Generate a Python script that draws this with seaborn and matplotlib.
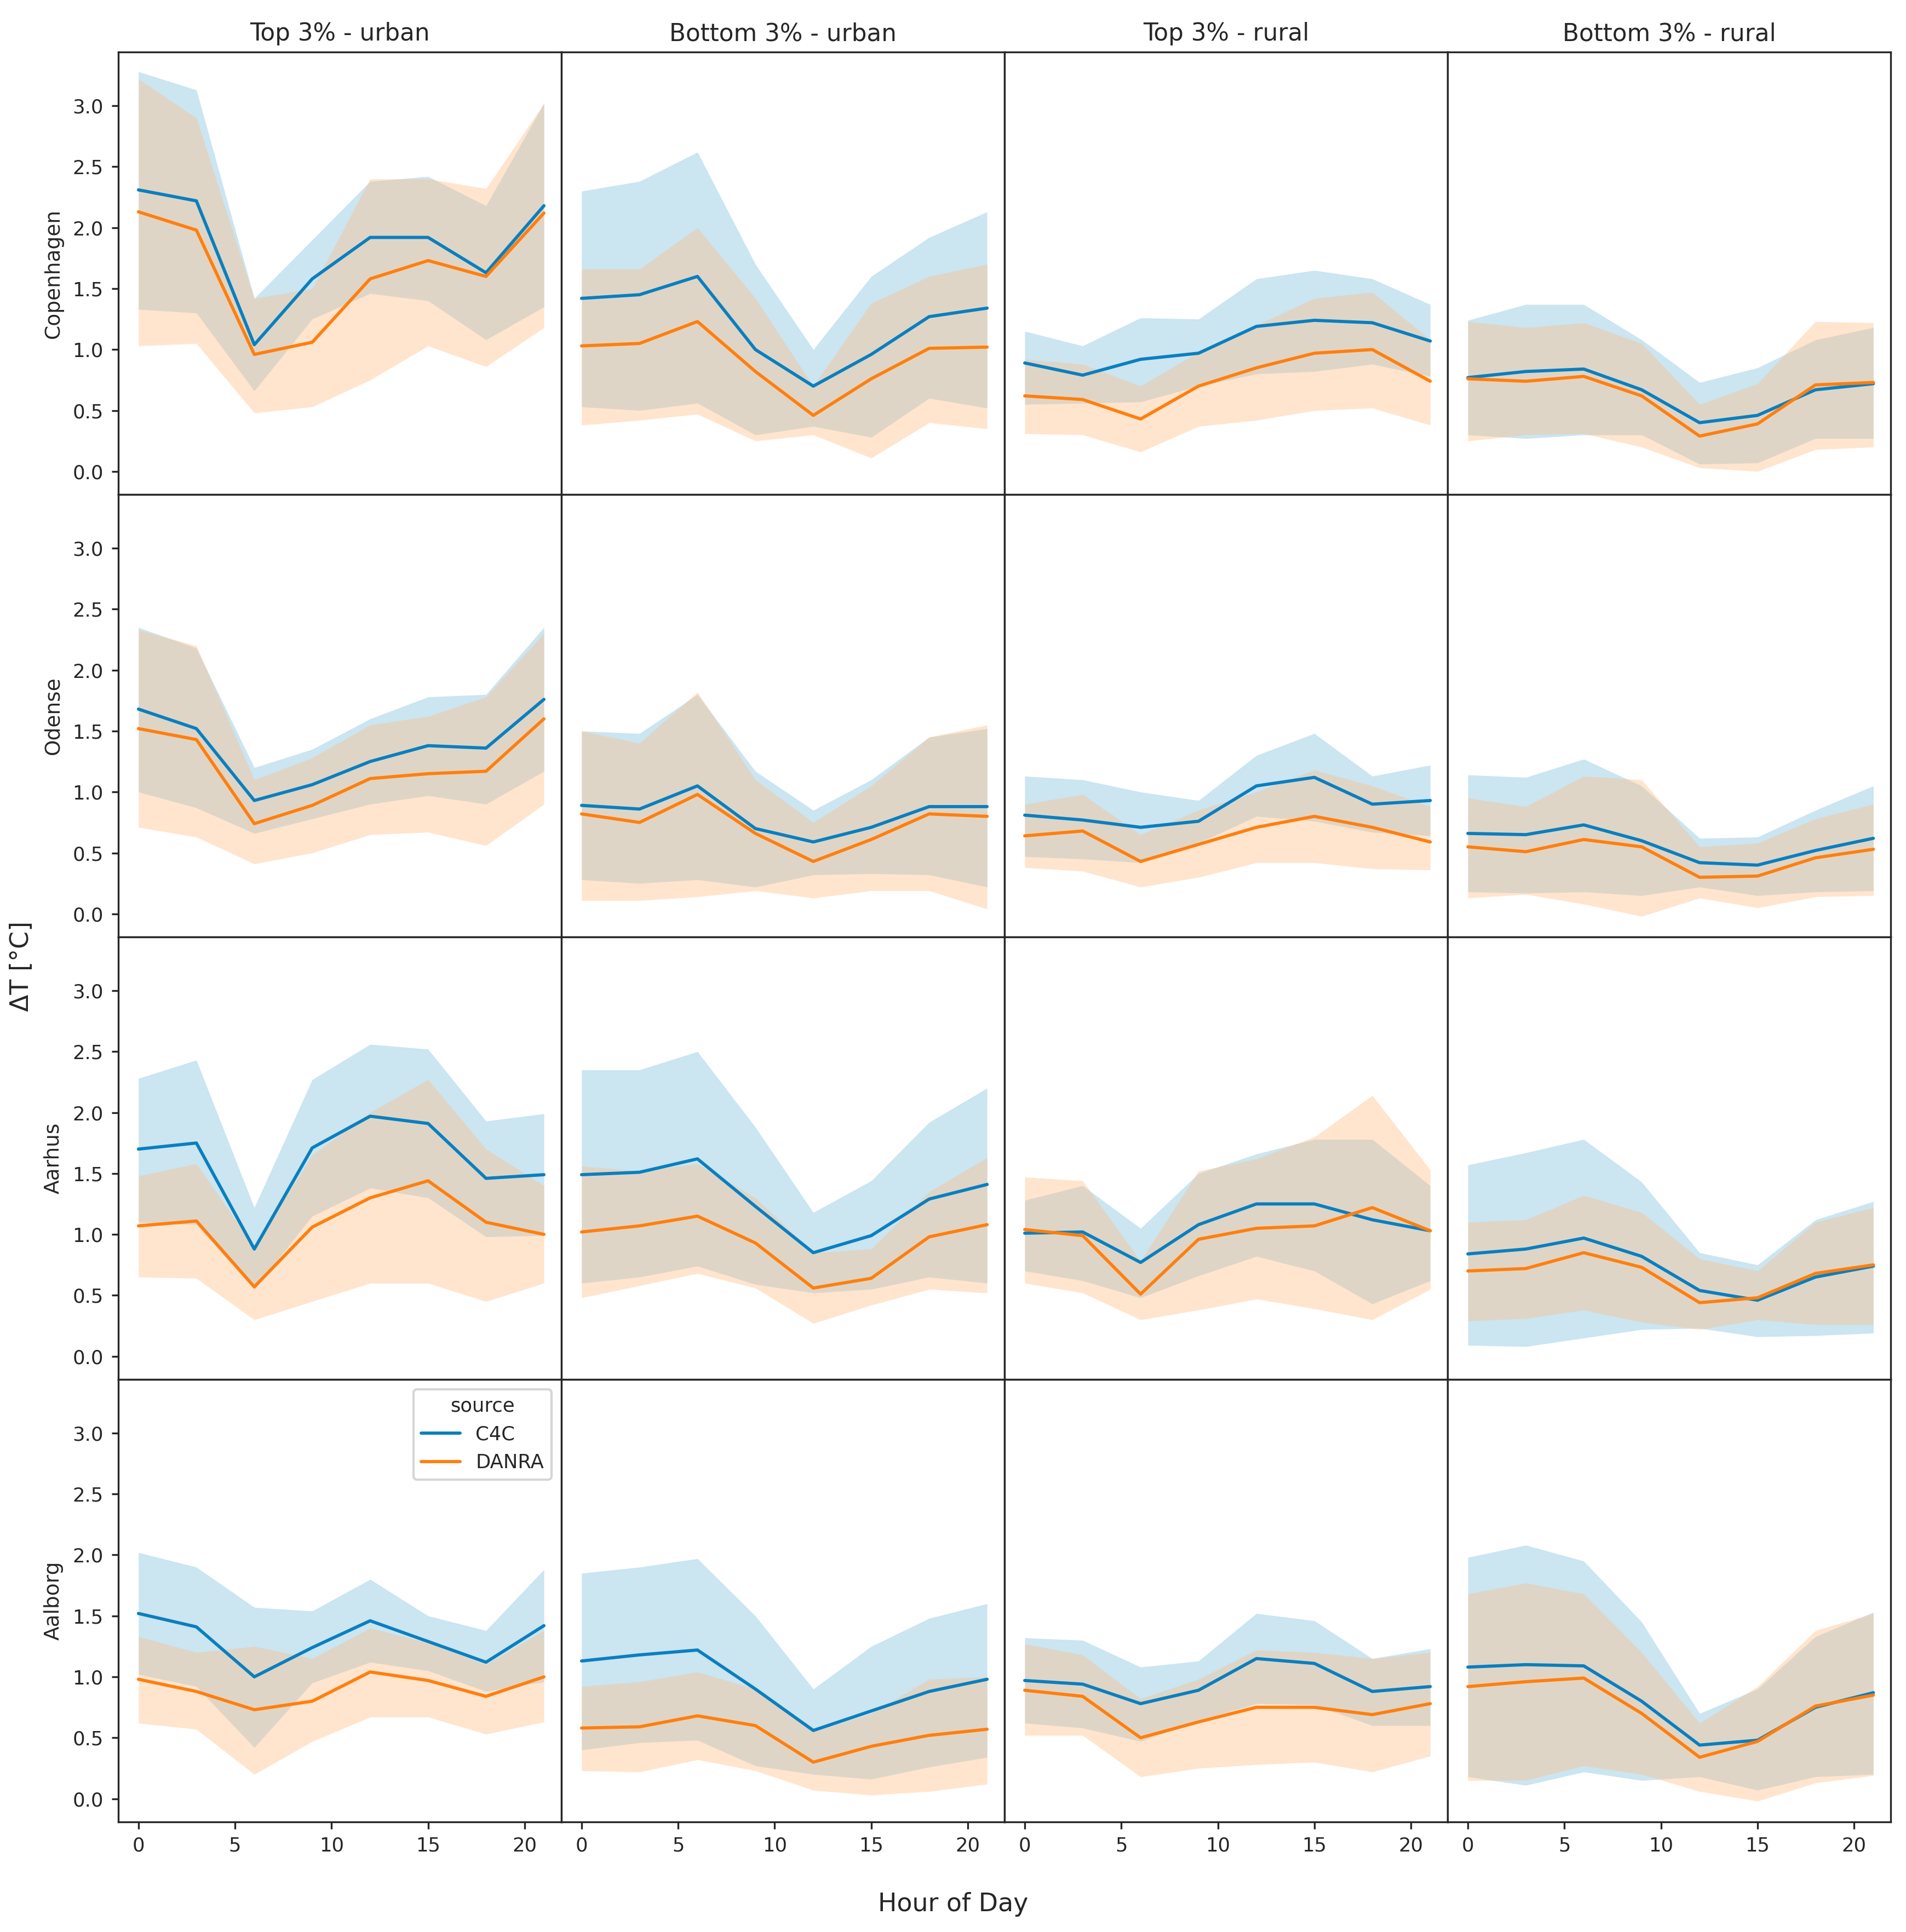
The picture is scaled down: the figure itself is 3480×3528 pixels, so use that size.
import matplotlib
matplotlib.use("Agg")
import matplotlib.pyplot as plt
import numpy as np
import pandas as pd
import seaborn as sns

hours = [0, 3, 6, 9, 12, 15, 18, 21]
cities = ["Copenhagen", "Odense", "Aarhus", "Aalborg"]
groups = ["Top 3% - urban", "Bottom 3% - urban", "Top 3% - rural", "Bottom 3% - rural"]

# (city, group index) -> (mean, lower, upper)
c4c = {
    ("Copenhagen", 0): ([2.31, 2.22, 1.04, 1.58, 1.92, 1.92, 1.63, 2.18], [1.33, 1.30, 0.66, 1.25, 1.46, 1.40, 1.08, 1.35], [3.28, 3.13, 1.42, 1.90, 2.38, 2.42, 2.18, 3.02]),
    ("Copenhagen", 1): ([1.42, 1.45, 1.60, 1.00, 0.70, 0.96, 1.27, 1.34], [0.53, 0.50, 0.56, 0.30, 0.37, 0.28, 0.60, 0.52], [2.30, 2.38, 2.62, 1.70, 1.00, 1.60, 1.92, 2.13]),
    ("Copenhagen", 2): ([0.89, 0.79, 0.92, 0.97, 1.19, 1.24, 1.22, 1.07], [0.55, 0.56, 0.57, 0.70, 0.80, 0.82, 0.88, 0.78], [1.15, 1.03, 1.26, 1.25, 1.58, 1.65, 1.58, 1.37]),
    ("Copenhagen", 3): ([0.77, 0.82, 0.84, 0.67, 0.40, 0.46, 0.67, 0.72], [0.30, 0.27, 0.30, 0.30, 0.06, 0.07, 0.27, 0.27], [1.24, 1.37, 1.37, 1.08, 0.73, 0.85, 1.08, 1.18]),
    ("Odense", 0): ([1.68, 1.52, 0.93, 1.06, 1.25, 1.38, 1.36, 1.76], [1.00, 0.87, 0.66, 0.78, 0.90, 0.97, 0.90, 1.17], [2.35, 2.18, 1.20, 1.35, 1.60, 1.78, 1.80, 2.35]),
    ("Odense", 1): ([0.89, 0.86, 1.05, 0.70, 0.59, 0.71, 0.88, 0.88], [0.28, 0.25, 0.28, 0.22, 0.32, 0.33, 0.32, 0.22], [1.50, 1.48, 1.80, 1.17, 0.85, 1.10, 1.45, 1.52]),
    ("Odense", 2): ([0.81, 0.77, 0.71, 0.76, 1.05, 1.12, 0.90, 0.93], [0.47, 0.45, 0.42, 0.58, 0.80, 0.76, 0.67, 0.64], [1.13, 1.10, 1.00, 0.93, 1.30, 1.48, 1.13, 1.22]),
    ("Odense", 3): ([0.66, 0.65, 0.73, 0.60, 0.42, 0.40, 0.52, 0.62], [0.18, 0.17, 0.18, 0.15, 0.22, 0.15, 0.18, 0.19], [1.14, 1.12, 1.27, 1.05, 0.62, 0.63, 0.85, 1.05]),
    ("Aarhus", 0): ([1.70, 1.75, 0.88, 1.71, 1.97, 1.91, 1.46, 1.49], [1.10, 1.08, 0.55, 1.15, 1.38, 1.30, 0.98, 0.99], [2.28, 2.43, 1.22, 2.27, 2.56, 2.52, 1.93, 1.99]),
    ("Aarhus", 1): ([1.49, 1.51, 1.62, 1.23, 0.85, 0.99, 1.29, 1.41], [0.60, 0.65, 0.74, 0.59, 0.52, 0.55, 0.65, 0.60], [2.35, 2.35, 2.50, 1.88, 1.18, 1.44, 1.92, 2.20]),
    ("Aarhus", 2): ([1.01, 1.02, 0.77, 1.08, 1.25, 1.25, 1.12, 1.03], [0.70, 0.62, 0.48, 0.66, 0.82, 0.70, 0.43, 0.62], [1.28, 1.40, 1.05, 1.50, 1.66, 1.78, 1.78, 1.40]),
    ("Aarhus", 3): ([0.84, 0.88, 0.97, 0.82, 0.54, 0.46, 0.65, 0.74], [0.09, 0.08, 0.15, 0.22, 0.23, 0.16, 0.17, 0.19], [1.57, 1.67, 1.78, 1.43, 0.85, 0.75, 1.12, 1.27]),
    ("Aalborg", 0): ([1.52, 1.41, 1.00, 1.24, 1.46, 1.29, 1.12, 1.42], [1.02, 0.92, 0.42, 0.95, 1.12, 1.05, 0.88, 0.96], [2.02, 1.90, 1.57, 1.54, 1.80, 1.50, 1.38, 1.88]),
    ("Aalborg", 1): ([1.13, 1.18, 1.22, 0.90, 0.56, 0.72, 0.88, 0.98], [0.40, 0.46, 0.48, 0.27, 0.20, 0.16, 0.26, 0.34], [1.85, 1.90, 1.97, 1.50, 0.90, 1.25, 1.48, 1.60]),
    ("Aalborg", 2): ([0.97, 0.94, 0.78, 0.89, 1.15, 1.11, 0.88, 0.92], [0.62, 0.58, 0.47, 0.64, 0.78, 0.77, 0.60, 0.60], [1.32, 1.30, 1.08, 1.13, 1.52, 1.46, 1.15, 1.23]),
    ("Aalborg", 3): ([1.08, 1.10, 1.09, 0.80, 0.44, 0.48, 0.75, 0.87], [0.18, 0.11, 0.22, 0.15, 0.18, 0.07, 0.18, 0.20], [1.98, 2.08, 1.95, 1.45, 0.70, 0.90, 1.33, 1.53]),
}
danra = {
    ("Copenhagen", 0): ([2.13, 1.98, 0.96, 1.06, 1.58, 1.73, 1.60, 2.12], [1.03, 1.05, 0.48, 0.53, 0.75, 1.03, 0.86, 1.18], [3.22, 2.90, 1.42, 1.50, 2.40, 2.40, 2.32, 3.02]),
    ("Copenhagen", 1): ([1.03, 1.05, 1.23, 0.82, 0.46, 0.76, 1.01, 1.02], [0.38, 0.42, 0.47, 0.25, 0.30, 0.11, 0.40, 0.35], [1.66, 1.66, 2.00, 1.42, 0.70, 1.38, 1.60, 1.70]),
    ("Copenhagen", 2): ([0.62, 0.59, 0.43, 0.70, 0.85, 0.97, 1.00, 0.74], [0.31, 0.30, 0.16, 0.37, 0.42, 0.50, 0.52, 0.38], [0.92, 0.88, 0.70, 0.98, 1.20, 1.42, 1.47, 1.08]),
    ("Copenhagen", 3): ([0.76, 0.74, 0.78, 0.62, 0.29, 0.39, 0.71, 0.73], [0.25, 0.30, 0.31, 0.20, 0.03, 0.00, 0.18, 0.20], [1.23, 1.18, 1.22, 1.05, 0.55, 0.72, 1.23, 1.22]),
    ("Odense", 0): ([1.52, 1.43, 0.74, 0.89, 1.11, 1.15, 1.17, 1.60], [0.71, 0.63, 0.41, 0.50, 0.65, 0.67, 0.56, 0.90], [2.33, 2.20, 1.10, 1.28, 1.55, 1.62, 1.78, 2.30]),
    ("Odense", 1): ([0.82, 0.75, 0.98, 0.66, 0.43, 0.61, 0.82, 0.80], [0.11, 0.11, 0.14, 0.19, 0.13, 0.19, 0.19, 0.04], [1.50, 1.40, 1.82, 1.10, 0.75, 1.05, 1.45, 1.55]),
    ("Odense", 2): ([0.64, 0.68, 0.43, 0.57, 0.71, 0.80, 0.71, 0.59], [0.38, 0.35, 0.22, 0.30, 0.42, 0.42, 0.37, 0.36], [0.90, 0.98, 0.65, 0.85, 1.00, 1.18, 1.05, 0.88]),
    ("Odense", 3): ([0.55, 0.51, 0.61, 0.55, 0.30, 0.31, 0.46, 0.53], [0.13, 0.16, 0.08, -0.02, 0.13, 0.05, 0.14, 0.15], [0.95, 0.88, 1.13, 1.10, 0.55, 0.58, 0.78, 0.90]),
    ("Aarhus", 0): ([1.07, 1.11, 0.57, 1.06, 1.30, 1.44, 1.10, 1.00], [0.65, 0.64, 0.30, 0.45, 0.60, 0.60, 0.45, 0.60], [1.48, 1.58, 0.90, 1.65, 2.00, 2.27, 1.70, 1.40]),
    ("Aarhus", 1): ([1.02, 1.07, 1.15, 0.93, 0.56, 0.64, 0.98, 1.08], [0.48, 0.58, 0.68, 0.56, 0.27, 0.42, 0.55, 0.52], [1.56, 1.52, 1.58, 1.30, 0.85, 0.88, 1.35, 1.63]),
    ("Aarhus", 2): ([1.04, 0.99, 0.51, 0.96, 1.05, 1.07, 1.22, 1.03], [0.60, 0.52, 0.30, 0.38, 0.47, 0.39, 0.30, 0.55], [1.47, 1.44, 0.78, 1.52, 1.62, 1.80, 2.14, 1.53]),
    ("Aarhus", 3): ([0.70, 0.72, 0.85, 0.73, 0.44, 0.48, 0.68, 0.75], [0.29, 0.31, 0.38, 0.28, 0.22, 0.30, 0.26, 0.26], [1.10, 1.12, 1.32, 1.18, 0.80, 0.70, 1.10, 1.22]),
    ("Aalborg", 0): ([0.98, 0.88, 0.73, 0.80, 1.04, 0.97, 0.84, 1.00], [0.62, 0.57, 0.20, 0.47, 0.67, 0.67, 0.53, 0.63], [1.33, 1.20, 1.25, 1.15, 1.40, 1.28, 1.10, 1.38]),
    ("Aalborg", 1): ([0.58, 0.59, 0.68, 0.60, 0.30, 0.43, 0.52, 0.57], [0.23, 0.22, 0.32, 0.23, 0.07, 0.03, 0.06, 0.12], [0.92, 0.96, 1.04, 0.90, 0.55, 0.70, 0.98, 1.00]),
    ("Aalborg", 2): ([0.89, 0.84, 0.50, 0.63, 0.75, 0.75, 0.69, 0.78], [0.52, 0.52, 0.18, 0.25, 0.28, 0.30, 0.22, 0.35], [1.27, 1.18, 0.82, 0.98, 1.22, 1.20, 1.15, 1.20]),
    ("Aalborg", 3): ([0.92, 0.96, 0.99, 0.70, 0.34, 0.47, 0.76, 0.85], [0.15, 0.15, 0.27, 0.20, 0.06, -0.02, 0.13, 0.19], [1.68, 1.77, 1.68, 1.20, 0.62, 0.92, 1.38, 1.52]),
}

rows = []
for src, table in [("C4C", c4c), ("DANRA", danra)]:
    for (city, g), (mean, lo, hi) in table.items():
        for h, m, l, u in zip(hours, mean, lo, hi):
            rows.append(dict(source=src, city=city, group=groups[g], hour=h, mean=m, lo=l, hi=u))
df = pd.DataFrame(rows)

palette = {"C4C": "#0a7fbf", "DANRA": "#ff7f0e"}
band = {"C4C": "#7fbfdd", "DANRA": "#ffbe86"}

sns.set_style("ticks")
plt.rcParams["font.family"] = ["DejaVu Sans"]
fig, axes = plt.subplots(4, 4, figsize=(11.6, 11.76), sharex=True, sharey=True)
fig.subplots_adjust(left=0.062, right=0.992, top=0.973, bottom=0.057, wspace=0, hspace=0)

for i, city in enumerate(cities):
    for j, grp in enumerate(groups):
        ax = axes[i, j]
        sub = df[(df.city == city) & (df.group == grp)]
        for src in ["C4C", "DANRA"]:
            s = sub[sub.source == src]
            ax.fill_between(s["hour"], s["lo"], s["hi"], color=band[src], alpha=0.4, lw=0)
        sns.lineplot(data=sub, x="hour", y="mean", hue="source", palette=palette,
                     ax=ax, lw=1.4, legend=(i == 3 and j == 0))
        ax.set_xlim(-1.05, 21.9)
        ax.set_ylim(-0.19, 3.44)
        ax.set_yticks(np.arange(0, 3.01, 0.5))
        ax.set_xticks([0, 5, 10, 15, 20])
        ax.tick_params(labelsize=8.5, length=3)
        if j > 0:
            ax.tick_params(axis="y", length=0)
        ax.set_xlabel("")
        ax.set_ylabel(city if j == 0 else "", fontsize=9)
        if i == 0:
            ax.set_title(grp, fontsize=10.5, pad=5)
        for sp in ax.spines.values():
            sp.set_linewidth(0.8)

leg = axes[3, 0].legend(title="source", fontsize=8.5, title_fontsize=8.5, loc="upper right")
fig.supxlabel("Hour of Day", fontsize=11, y=0.008)
fig.supylabel("ΔT [°C]", fontsize=11, x=0.005)
fig.savefig("out.png", dpi=300)
